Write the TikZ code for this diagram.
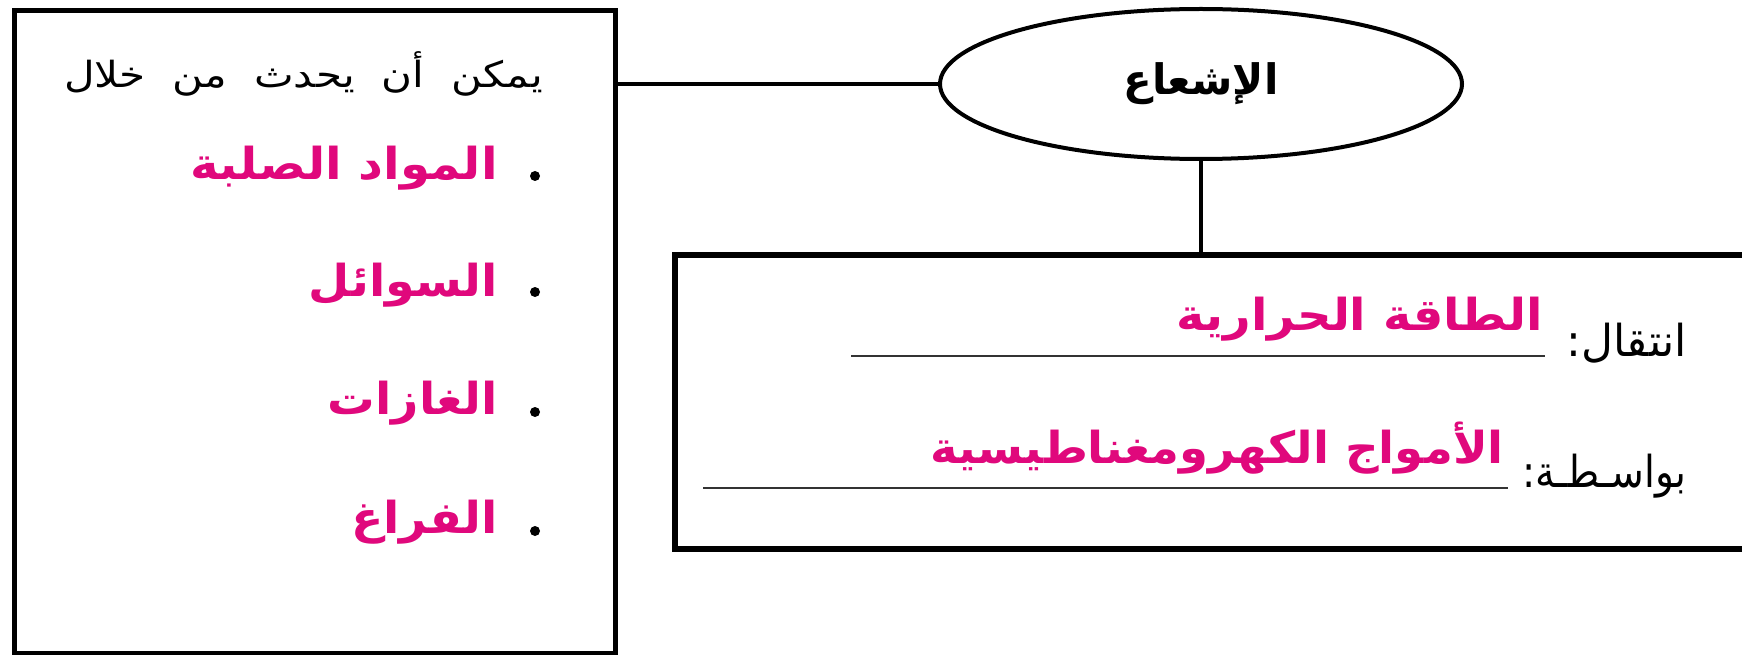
\documentclass[tikz,border=0pt]{standalone}
\usepackage{fontspec}
\usepackage{graphicx}
\usetikzlibrary{shapes.geometric}
\newfontfamily\arabicfont[Script=Arabic]{DejaVu Sans}
\TeXXeTstate=1
\definecolor{answerpink}{RGB}{224,8,124}
\begin{document}
\begin{tikzpicture}[x=1pt,y=-1pt,
  frame/.style={draw=black, line width=5pt, rectangle, inner sep=0pt},
  link/.style={draw=black, line width=4pt},
  blank/.style={draw=black!80, line width=2.5pt},
  plain/.style={inner sep=0pt, font=\arabicfont\fontsize{44}{50}\selectfont},
  answer/.style={inner sep=0pt, text=answerpink, font=\arabicfont\bfseries\fontsize{44}{50}\selectfont},
  bulletdot/.style={circle, fill=black, inner sep=0pt, minimum size=10pt}]
\useasboundingbox (0,0) rectangle (1742,655);
\clip (0,0) rectangle (1742,655);
\fill[white] (0,0) rectangle (1742,655);

% boxes and the central ellipse
\node[frame, minimum width=601pt, minimum height=643pt] (leftbox) at (314.5,332) {};
\node[frame, line width=5.5pt, minimum width=1125pt, minimum height=294pt] (rightbox) at (1237.5,402) {};
\node[draw=black, line width=4pt, ellipse, minimum width=522pt, minimum height=150pt, inner sep=0pt] (topic) at (1201,84)
  {\arabicfont\bfseries\fontsize{42}{48}\selectfont\beginR الإشعاع\endR};

% connectors
\draw[link] (leftbox.east |- topic.west) -- (topic.west);
\draw[link] (topic.south) -- (topic.south |- rightbox.north);

% left box: where radiation happens
\node[inner sep=0pt, anchor=base east, font=\arabicfont\fontsize{36}{42}\selectfont] (intro) at (543,88)
  {\spaceskip=23pt\scalebox{1.17}[1]{\beginR يمكن أن يحدث من خلال\endR}};
\node[answer, anchor=base east] (solid) at (498,180) {\scalebox{1.1}[1]{\beginR المواد الصلبة\endR}};
\node[answer, anchor=base east] (liquid) at (498,296) {\scalebox{1.08}[1]{\beginR السوائل\endR}};
\node[answer, anchor=base east] (gas) at (498,414) {\scalebox{1.08}[1]{\beginR الغازات\endR}};
\node[answer, anchor=base east] (vacuum) at (498,533) {\scalebox{1.08}[1]{\beginR الفراغ\endR}};
\node[bulletdot] (b1) at (535,176) {};
\node[bulletdot] (b2) at (535,292) {};
\node[bulletdot] (b3) at (535,412) {};
\node[bulletdot] (b4) at (535,531) {};

% right box: what is transferred and how
\node[plain, anchor=base east] (transfer) at (1687,356) {\beginR انتقال:\endR};
\coordinate (line1a) at (851,356);
\coordinate (line1b) at (1545,356);
\draw[blank] (line1a) -- (line1b);
\node[answer, anchor=base east] (heat) at (1543,330) {\scalebox{1.09}[1]{\beginR الطاقة الحرارية\endR}};

\node[plain, anchor=base east] (means) at (1687,487) {\scalebox{0.89}[1]{\beginR بواسـطـة:\endR}};
\coordinate (line2a) at (703,488);
\coordinate (line2b) at (1508,488);
\draw[blank] (line2a) -- (line2b);
\node[answer, anchor=base east] (waves) at (1504,463) {\scalebox{1.06}[1]{\beginR الأمواج الكهرومغناطيسية\endR}};
\end{tikzpicture}
\end{document}
